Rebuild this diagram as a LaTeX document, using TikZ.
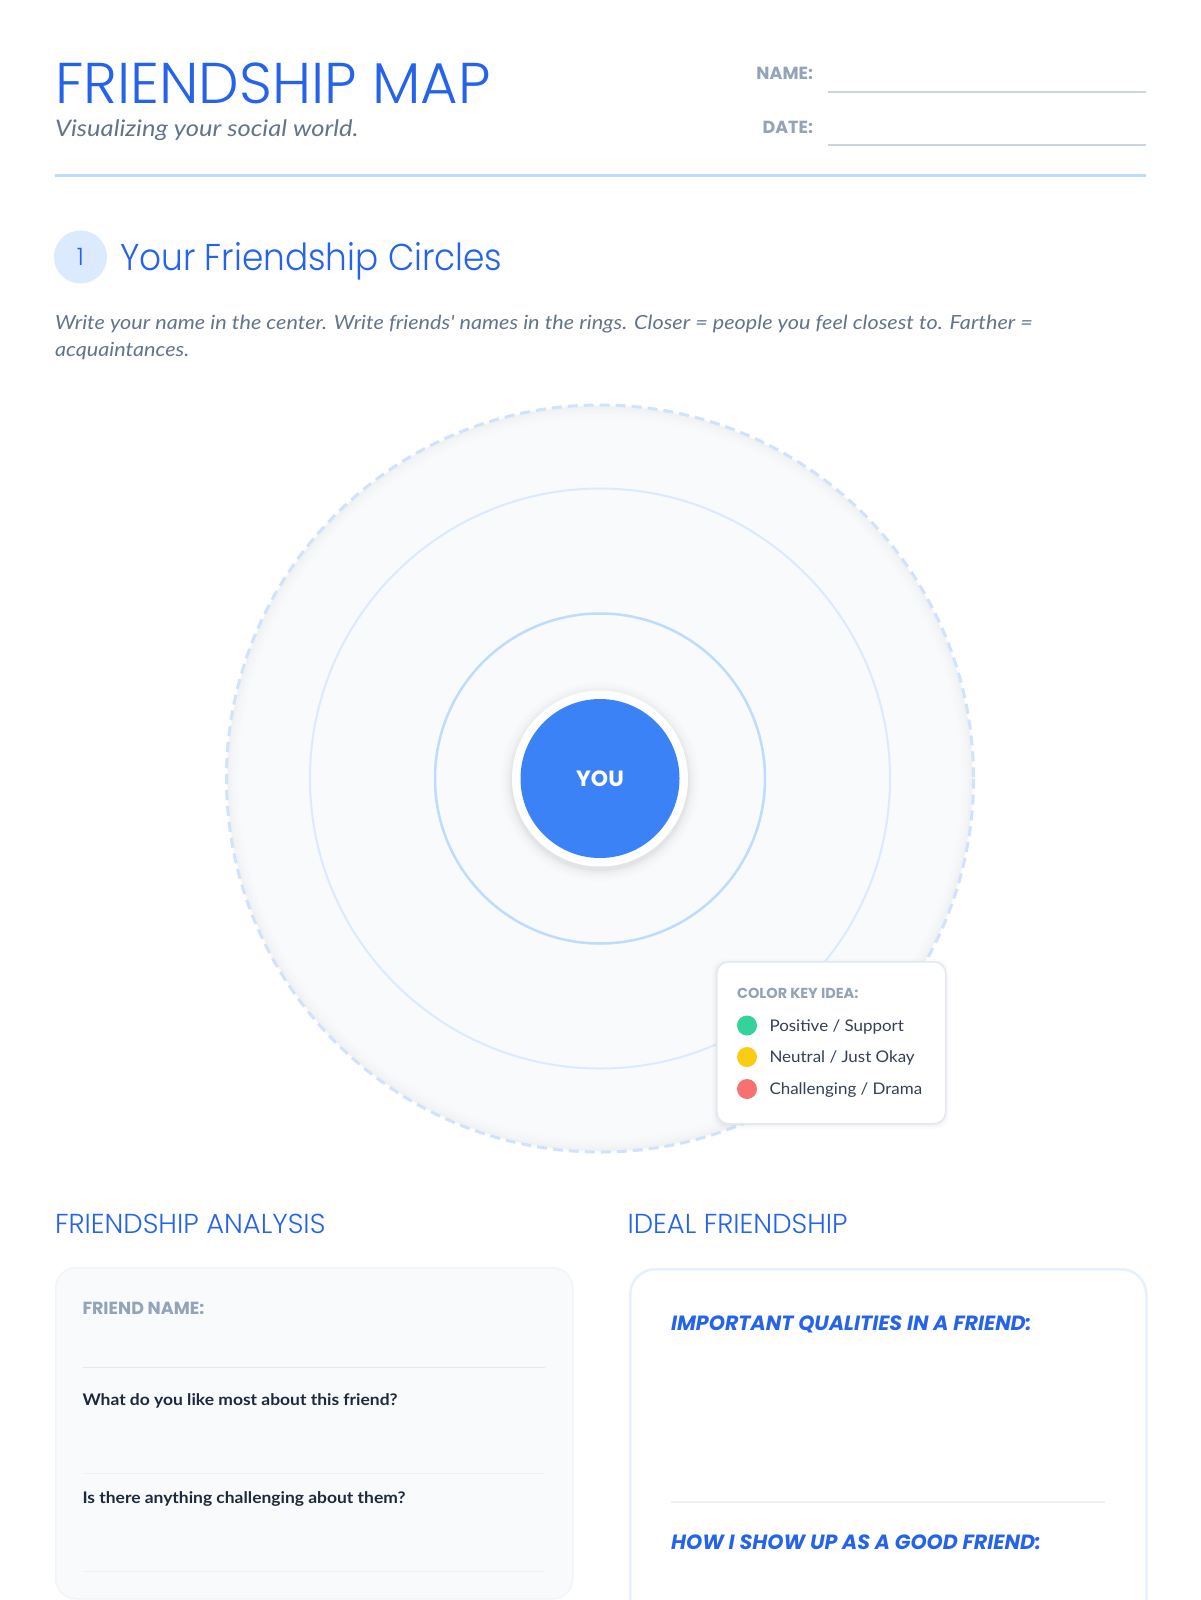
\documentclass[tikz,border=0pt]{standalone}
\usepackage{fontspec}
\setmainfont{Lato}
\newfontfamily\headfont{Poppins}
\IfFontExistsTF{Poppins Light}{%
  \newfontfamily\lightfont{Poppins Light}%
  \newfontfamily\lightnarrow{Poppins Light}[FakeStretch=0.92]%
}{%
  \newfontfamily\lightfont{Poppins}%
  \newfontfamily\lightnarrow{Poppins}[FakeStretch=0.92]%
}
\newfontfamily\subfont{Lato}[FakeStretch=1.12]
\newfontfamily\descfont{Lato}[FakeStretch=1.11]
\newfontfamily\keyfont{Lato}[FakeStretch=1.06]
\newfontfamily\qfont{Lato}[FakeStretch=1.09]
\definecolor{tblue}{HTML}{2563EB}
\definecolor{subgray}{HTML}{64748B}
\definecolor{lblgray}{HTML}{94A3B8}
\definecolor{linegray}{HTML}{CBD5E1}
\definecolor{lightline}{HTML}{E2E8F0}
\definecolor{paleline}{HTML}{EEF2F6}
\definecolor{rule}{HTML}{BFDBFE}
\definecolor{pale}{HTML}{DBEAFE}
\definecolor{dashc}{HTML}{D0E2FC}
\definecolor{bg}{HTML}{F8FAFC}
\definecolor{youblue}{HTML}{3B82F6}
\definecolor{dark}{HTML}{1E293B}
\definecolor{keytext}{HTML}{334155}
\definecolor{kgreen}{HTML}{34D399}
\definecolor{kyellow}{HTML}{FACC15}
\definecolor{kred}{HTML}{F87171}
\definecolor{boxborder}{HTML}{F1F5F9}
\definecolor{idealborder}{HTML}{E6F0FE}
\tikzset{
  txt/.style={inner sep=0pt, outer sep=0pt, anchor=base west},
  hd/.style={txt, font=\lightfont\fontsize{#1}{#1}\selectfont, text=tblue},
  lbl/.style={txt, font=\headfont\bfseries\fontsize{17.5}{17.5}\selectfont, text=lblgray},
  fieldline/.style={draw=linegray, line width=1.5pt},
  keydot/.style={circle, fill=#1, minimum size=20pt, inner sep=0pt},
  keylbl/.style={txt, font=\keyfont\fontsize{16}{16}\selectfont, text=keytext},
  question/.style={txt, font=\qfont\bfseries\fontsize{16}{16}\selectfont, text=dark},
  idealhd/.style={txt, font=\headfont\bfseries\itshape\fontsize{20.6}{20.6}\selectfont, text=tblue},
}
\begin{document}
\begin{tikzpicture}[x=1pt,y=-1pt]
\useasboundingbox (0,0) rectangle (1200,1600);
\fill[white] (0,0) rectangle (1200,1600);

% header
\node[hd=57.5, text depth=0pt] (title) at (55,104) {FRIENDSHIP MAP};
\node[txt, font=\subfont\itshape\fontsize{22.8}{22.8}\selectfont, text=subgray, text height=15pt] (subtitle) at (55,136) {Visualizing your social world.};
\node[lbl, anchor=base east] (namelbl) at (813,79.5) {NAME:};
\node[lbl, anchor=base east] (datelbl) at (813,134) {DATE:};
\coordinate (n1) at (828,92); \coordinate (n2) at (1146,92);
\coordinate (d1) at (828,145); \coordinate (d2) at (1146,145);
\draw[fieldline] (n1) -- (n2);
\draw[fieldline] (d1) -- (d2);
\coordinate (r1) at (55,175.5); \coordinate (r2) at (1146,175.5);
\draw[draw=rule, line width=3pt] (r1) -- (r2);

% section 1
\node[circle, fill=pale, minimum size=53pt, inner sep=0pt, text=tblue, font=\lightfont\fontsize{24}{24}\selectfont] (num) at (80.5,257) {1};
\node[txt, font=\lightnarrow\fontsize{37.3}{37.3}\selectfont, text=tblue] (sec) at (120,270) {Your Friendship Circles};
\node[txt, font=\descfont\itshape\fontsize{19.5}{19.5}\selectfont, text=subgray] (desc1) at (55,329.5) {Write your name in the center. Write friends' names in the rings. Closer = people you feel closest to. Farther =};
\node[txt, font=\descfont\itshape\fontsize{19.5}{19.5}\selectfont, text=subgray] (desc2) at (55,356) {acquaintances.};

% circles
\coordinate (c) at (600,778.5);
\coordinate (cs) at (600,781.5);
\fill[bg] (c) circle (373.5);
\foreach \r/\o in {371/0.03,368/0.018,365/0.01,362/0.005}{\draw[black, opacity=\o, line width=3pt] (c) circle (\r);}
\draw[dashc, line width=3pt, dash pattern=on 10pt off 6pt] (c) circle (373.5);
\draw[pale, line width=2pt] (c) circle (290);
\draw[rule, line width=2.5pt] (c) circle (165);
\foreach \r/\o in {100/0.008,97/0.012,94/0.016,91.5/0.022,89.5/0.028}{\fill[black, opacity=\o] (cs) circle (\r);}
\fill[white] (c) circle (88);
\node[circle, fill=youblue, minimum size=159pt, inner sep=0pt, text=white, font=\headfont\bfseries\fontsize{22}{22}\selectfont] (you) at (c) {YOU};

% key box
\foreach \e/\o in {4/0.01,2.5/0.016,1.2/0.025}{\fill[black, opacity=\o, rounded corners=12pt] (716-\e,961-\e+2) rectangle (945+\e,1123+\e+2);}
\node[draw=lightline, fill=white, line width=1.5pt, rounded corners=12pt, minimum width=229pt, minimum height=162pt, inner sep=0pt, anchor=north west] (key) at (716,961) {};
\node[txt, font=\headfont\bfseries\fontsize{14.5}{14.5}\selectfont, text=lblgray] (keyhd) at (737,998) {COLOR KEY IDEA:};
\node[keydot=kgreen] (g) at (747,1025.5) {};
\node[keydot=kyellow] (y) at (747,1057) {};
\node[keydot=kred] (rd) at (747,1089) {};
\node[keylbl] (gl) at (769.5,1031) {Positive / Support};
\node[keylbl] (yl) at (769.5,1062.5) {Neutral / Just Okay};
\node[keylbl] (rl) at (769.5,1094.5) {Challenging / Drama};

% friendship analysis
\node[hd=27.4] (fa) at (55,1233) {FRIENDSHIP ANALYSIS};
\node[draw=boxborder, fill=bg, line width=1.5pt, rounded corners=20pt, minimum width=517pt, minimum height=331pt, inner sep=0pt, anchor=north west] (fabox) at (55,1267) {};
\node[lbl] (fname) at (82.5,1314.5) {FRIEND NAME:};
\coordinate (l1a) at (82.5,1367.5); \coordinate (l1b) at (545,1367.5);
\draw[lightline, line width=1.5pt] (l1a) -- (l1b);
\node[question] (q1) at (82.5,1405.5) {What do you like most about this friend?};
\coordinate (l2a) at (82.5,1473.5); \coordinate (l2b) at (545,1473.5);
\draw[paleline, line width=1.5pt] (l2a) -- (l2b);
\node[question] (q2) at (82.5,1503.5) {Is there anything challenging about them?};
\coordinate (l3a) at (82.5,1571.5); \coordinate (l3b) at (545,1571.5);
\draw[paleline, line width=1.5pt] (l3a) -- (l3b);

% ideal friendship
\node[hd=27.4] (ideal) at (627.5,1233) {IDEAL FRIENDSHIP};
\node[draw=idealborder, fill=white, line width=2.5pt, rounded corners=25pt, minimum width=516pt, minimum height=380pt, inner sep=0pt, anchor=north west] (idbox) at (629,1268) {};
\node[idealhd] (iq) at (671,1330) {IMPORTANT QUALITIES IN A FRIEND:};
\coordinate (l4a) at (671,1502); \coordinate (l4b) at (1105,1502);
\draw[paleline, line width=1.5pt] (l4a) -- (l4b);
\node[idealhd] (ih) at (671,1549.5) {HOW I SHOW UP AS A GOOD FRIEND:};
\end{tikzpicture}
\end{document}
